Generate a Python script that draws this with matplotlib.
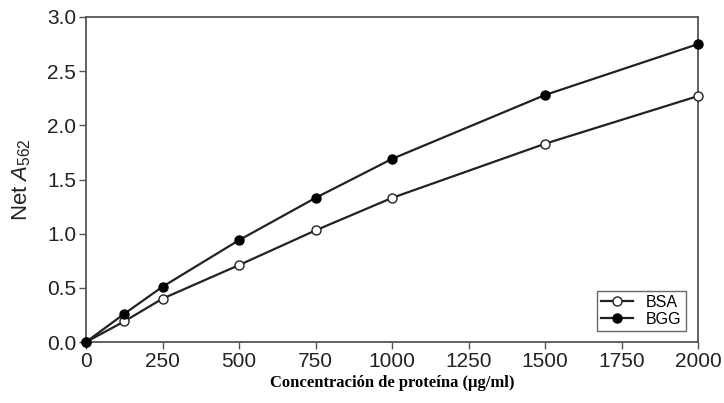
import matplotlib
matplotlib.use('Agg')
import matplotlib.pyplot as plt

conc = [0, 125, 250, 500, 750, 1000, 1500, 2000]
bsa = [0.0, 0.19, 0.40, 0.71, 1.03, 1.33, 1.83, 2.27]
bgg = [0.0, 0.26, 0.51, 0.94, 1.33, 1.69, 2.28, 2.75]
xticks = [0, 250, 500, 750, 1000, 1250, 1500, 1750, 2000]
yticks = [0.0, 0.5, 1.0, 1.5, 2.0, 2.5, 3.0]

plt.rcParams['font.family'] = ['Liberation Sans', 'DejaVu Sans']
plt.rcParams['mathtext.fontset'] = 'custom'
plt.rcParams['mathtext.it'] = 'Liberation Sans:italic'
plt.rcParams['mathtext.rm'] = 'Liberation Sans'

fig = plt.figure(figsize=(7.24, 4.03), dpi=100)
ax = fig.add_axes([86 / 724, 1 - 342 / 403, 612 / 724, 325 / 403])

line_col = '#222222'
ax.plot(conc, bsa, '-o', color=line_col, lw=1.6, ms=6.5, mfc='white', mec=line_col, mew=1.0,
        label='BSA', zorder=3, clip_on=False)
ax.plot(conc, bgg, '-o', color=line_col, lw=1.6, ms=6.5, mfc='black', mec='black', mew=1.0,
        label='BGG', zorder=4, clip_on=False)

ax.set_xlim(0, 2000)
ax.set_ylim(0, 3.0)
ax.set_xticks(xticks)
ax.set_yticks(yticks)
ax.set_yticklabels(['%.1f' % v for v in yticks])
for s in ax.spines.values():
    s.set_color('#555555')
    s.set_linewidth(1.3)
ax.tick_params(direction='out', length=5, width=1.0, color='#555555', labelsize=15,
               labelcolor='#222222', pad=2)

ax.set_xlabel('Concentración de proteína (µg/ml)', family=['Liberation Serif', 'DejaVu Serif'],
              fontweight='bold', fontsize=12, labelpad=3)
ax.set_ylabel('Net $A_{562}$', fontsize=16, color='#222222', labelpad=10)

leg = ax.legend(loc='lower right', bbox_to_anchor=(0.98, 0.035), fontsize=11.5, frameon=True,
                fancybox=False, handlelength=2.0, borderpad=0.25, labelspacing=0.1,
                handletextpad=0.8, borderaxespad=0)
leg.get_frame().set_edgecolor('#444444')
leg.get_frame().set_linewidth(1.0)

fig.savefig('out.png', dpi=100)
